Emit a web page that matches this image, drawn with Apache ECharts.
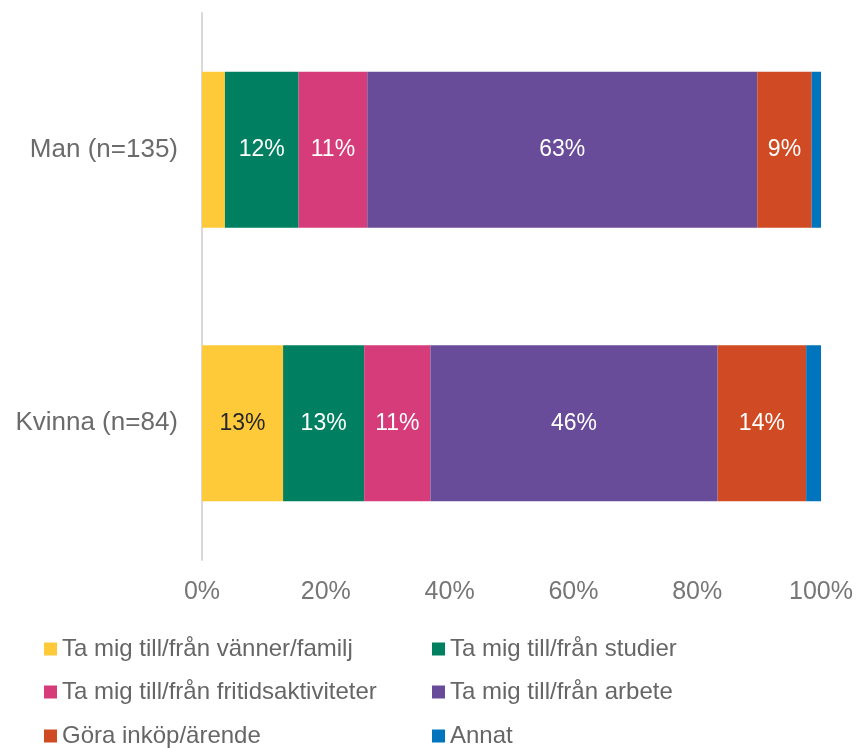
<!DOCTYPE html>
<html>
<head>
<meta charset="utf-8">
<script src="https://cdn.jsdelivr.net/npm/echarts@6/dist/echarts.min.js"></script>
<style>
html,body{margin:0;padding:0;background:#fff;}
#chart{width:859px;height:748px;}
</style>
</head>
<body>
<div id="chart"></div>
<script>
// Respondent groups
const categories = ['Man (n=135)', 'Kvinna (n=84)'];

// Share of trips by purpose (%), one array per purpose: [Man, Kvinna]
const seriesNames = [
  'Ta mig till/från vänner/familj',
  'Ta mig till/från studier',
  'Ta mig till/från fritidsaktiviteter',
  'Ta mig till/från arbete',
  'Göra inköp/ärende',
  'Annat'
];
const vannerFamilj = [3.7, 13.1];
const studier = [11.9, 13.1];
const fritid = [11.1, 10.7];
const arbete = [63.0, 46.4];
const inkop = [8.8, 14.3];
const annat = [1.5, 2.4];

const xTicks = [0, 20, 40, 60, 80, 100];

const colors = ['#FFCA3A', '#008060', '#D63B7A', '#684C99', '#D04A24', '#0075BE'];
const labelColors = ['#262626', '#ffffff', '#ffffff', '#ffffff', '#ffffff', '#ffffff'];
const values = [vannerFamilj, studier, fritid, arbete, inkop, annat];

const FONT = '"Liberation Sans", Arial, sans-serif';

const chart = echarts.init(document.getElementById('chart'), null, {renderer: 'canvas'});

const series = seriesNames.map((name, i) => ({
  name: name,
  type: 'bar',
  stack: 'total',
  barWidth: 156,
  data: values[i],
  itemStyle: {color: colors[i]},
  label: {
    show: true,
    position: 'inside',
    color: labelColors[i],
    fontSize: 23,
    fontFamily: FONT,
    formatter: p => p.value >= 5 ? Math.round(p.value) + '%' : ''
  }
}));

// Legend: two columns, three rows, one legend component per entry
const legendCols = [44, 432];
const legendRows = [649, 692, 736];
const legends = seriesNames.map((name, i) => ({
  left: legendCols[i % 2],
  top: legendRows[Math.floor(i / 2)] - 13,
  padding: 0,
  itemWidth: 13,
  itemHeight: 13,
  icon: 'rect',
  textStyle: {color: '#666666', fontSize: 24, fontFamily: FONT, lineHeight: 26},
  data: [name]
}));

chart.setOption({
  animation: false,
  grid: {left: 202, right: 38, top: 13, bottom: 188},
  xAxis: {
    type: 'value',
    min: 0,
    max: 100,
    interval: 20,
    axisLine: {show: false},
    axisTick: {show: false},
    splitLine: {show: false},
    axisLabel: {
      color: '#767676',
      fontSize: 25,
      fontFamily: FONT,
      margin: 20,
      formatter: v => xTicks.includes(v) ? v + '%' : ''
    }
  },
  yAxis: {
    type: 'category',
    data: categories,
    inverse: true,
    axisLine: {show: true, lineStyle: {color: '#D9D9D9', width: 2}},
    axisTick: {show: false},
    axisLabel: {
      color: '#6B6B6B',
      fontSize: 26,
      fontFamily: FONT,
      margin: 24
    }
  },
  legend: legends,
  series: series
});
</script>
</body>
</html>
